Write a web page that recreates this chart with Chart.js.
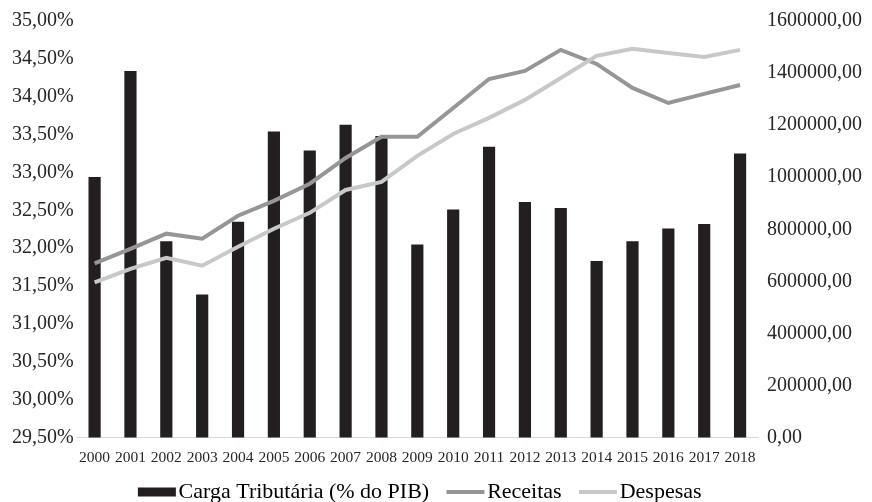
<!DOCTYPE html>
<html>
<head>
<meta charset="utf-8">
<script src="https://cdn.jsdelivr.net/npm/chart.js@4/dist/chart.umd.min.js"></script>
<style>
  html, body { margin: 0; padding: 0; background: #fff; }
  #wrap { width: 872px; height: 502px; position: relative; }
</style>
</head>
<body>
<div id="wrap"><canvas id="myChart"></canvas></div>
<script>
const years = ['2000','2001','2002','2003','2004','2005','2006','2007','2008','2009',
  '2010','2011','2012','2013','2014','2015','2016','2017','2018'];

// Carga Tributária (% do PIB) - eixo da esquerda
const carga = [32.94, 34.34, 32.09, 31.39, 32.35, 33.54, 33.29, 33.63, 33.48, 32.05,
  32.51, 33.34, 32.61, 32.53, 31.83, 32.09, 32.26, 32.32, 33.25];

// eixo da direita
const receitas = [669000, 725000, 783000, 764000, 852000, 909000, 975000, 1074000, 1155000, 1155000,
  1266000, 1377000, 1408000, 1489000, 1435000, 1343000, 1285000, 1320000, 1354000];
const despesas = [596000, 648000, 690000, 660000, 733000, 802000, 863000, 951000, 982000, 1082000,
  1166000, 1228000, 1297000, 1381000, 1466000, 1493000, 1477000, 1462000, 1489000];

const barColor = '#231f20';
const recColor = '#969696';
const despColor = '#c8c8c8';
const textColor = '#262626';
const fontFamily = '"Liberation Serif", "Times New Roman", serif';

const fmt = v => (Math.round(v * 100) / 100).toFixed(2).replace('.', ',');

// legend swatch drawn as a point style image (keeps the gap to the text small)
const swatch = (color, h) => {
  const c = document.createElement('canvas');
  c.width = 61;
  c.height = 10;
  const g = c.getContext('2d');
  g.fillStyle = color;
  g.fillRect(18, (10 - h) / 2, 38, h);
  return c;
};

var ctx = document.getElementById('myChart').getContext('2d');
new Chart(ctx, {
  type: 'bar',
  data: {
    labels: years,
    datasets: [
      {
        type: 'bar',
        label: 'Carga Tributária (% do PIB)',
        data: carga,
        backgroundColor: barColor,
        borderWidth: 0,
        yAxisID: 'y',
        categoryPercentage: 1,
        barPercentage: 0.34,
        order: 2
      },
      {
        type: 'line',
        label: 'Receitas',
        data: receitas,
        borderColor: recColor,
        backgroundColor: recColor,
        borderWidth: 4,
        pointRadius: 0,
        tension: 0,
        yAxisID: 'y1',
        order: 1
      },
      {
        type: 'line',
        label: 'Despesas',
        data: despesas,
        borderColor: despColor,
        backgroundColor: despColor,
        borderWidth: 4,
        pointRadius: 0,
        tension: 0,
        yAxisID: 'y1',
        order: 0
      }
    ]
  },
  options: {
    responsive: true,
    maintainAspectRatio: false,
    animation: false,
    layout: { padding: { top: 14.5, left: 9, right: 1, bottom: -11 } },
    plugins: {
      tooltip: { enabled: false },
      legend: {
        position: 'bottom',
        fullSize: false,
        labels: {
          color: textColor,
          font: { family: fontFamily, size: 22 },
          usePointStyle: true,
          pointStyleWidth: 34.5,
          boxHeight: 9,
          padding: 12.5,
          generateLabels: chart => chart.data.datasets.map((ds, i) => ({
            text: ds.label,
            fillStyle: ds.borderColor || ds.backgroundColor,
            strokeStyle: ds.borderColor || ds.backgroundColor,
            lineWidth: 0,
            pointStyle: ds.type === 'bar' ? swatch(barColor, 9) : swatch(ds.borderColor, 4),
            hidden: false,
            datasetIndex: i
          }))
        }
      }
    },
    scales: {
      x: {
        grid: { display: false, drawTicks: false },
        border: { display: true, color: '#d9d9d9', width: 1 },
        ticks: {
          color: textColor,
          font: { family: fontFamily, size: 15.5 },
          maxRotation: 0,
          autoSkip: false,
          padding: 11
        },
        afterFit: scale => { scale.height = 31; }
      },
      y: {
        position: 'left',
        min: 29.5,
        max: 35,
        grid: { display: false, drawTicks: false },
        border: { display: false },
        ticks: {
          stepSize: 0.5,
          color: textColor,
          font: { family: fontFamily, size: 20 },
          padding: 3,
          callback: v => fmt(v) + '%'
        }
      },
      y1: {
        position: 'right',
        min: 0,
        max: 1600000,
        grid: { display: false, drawTicks: false },
        border: { display: false },
        ticks: {
          stepSize: 200000,
          color: textColor,
          font: { family: fontFamily, size: 20 },
          padding: 9,
          callback: v => fmt(v)
        }
      }
    }
  }
});
</script>
</body>
</html>
